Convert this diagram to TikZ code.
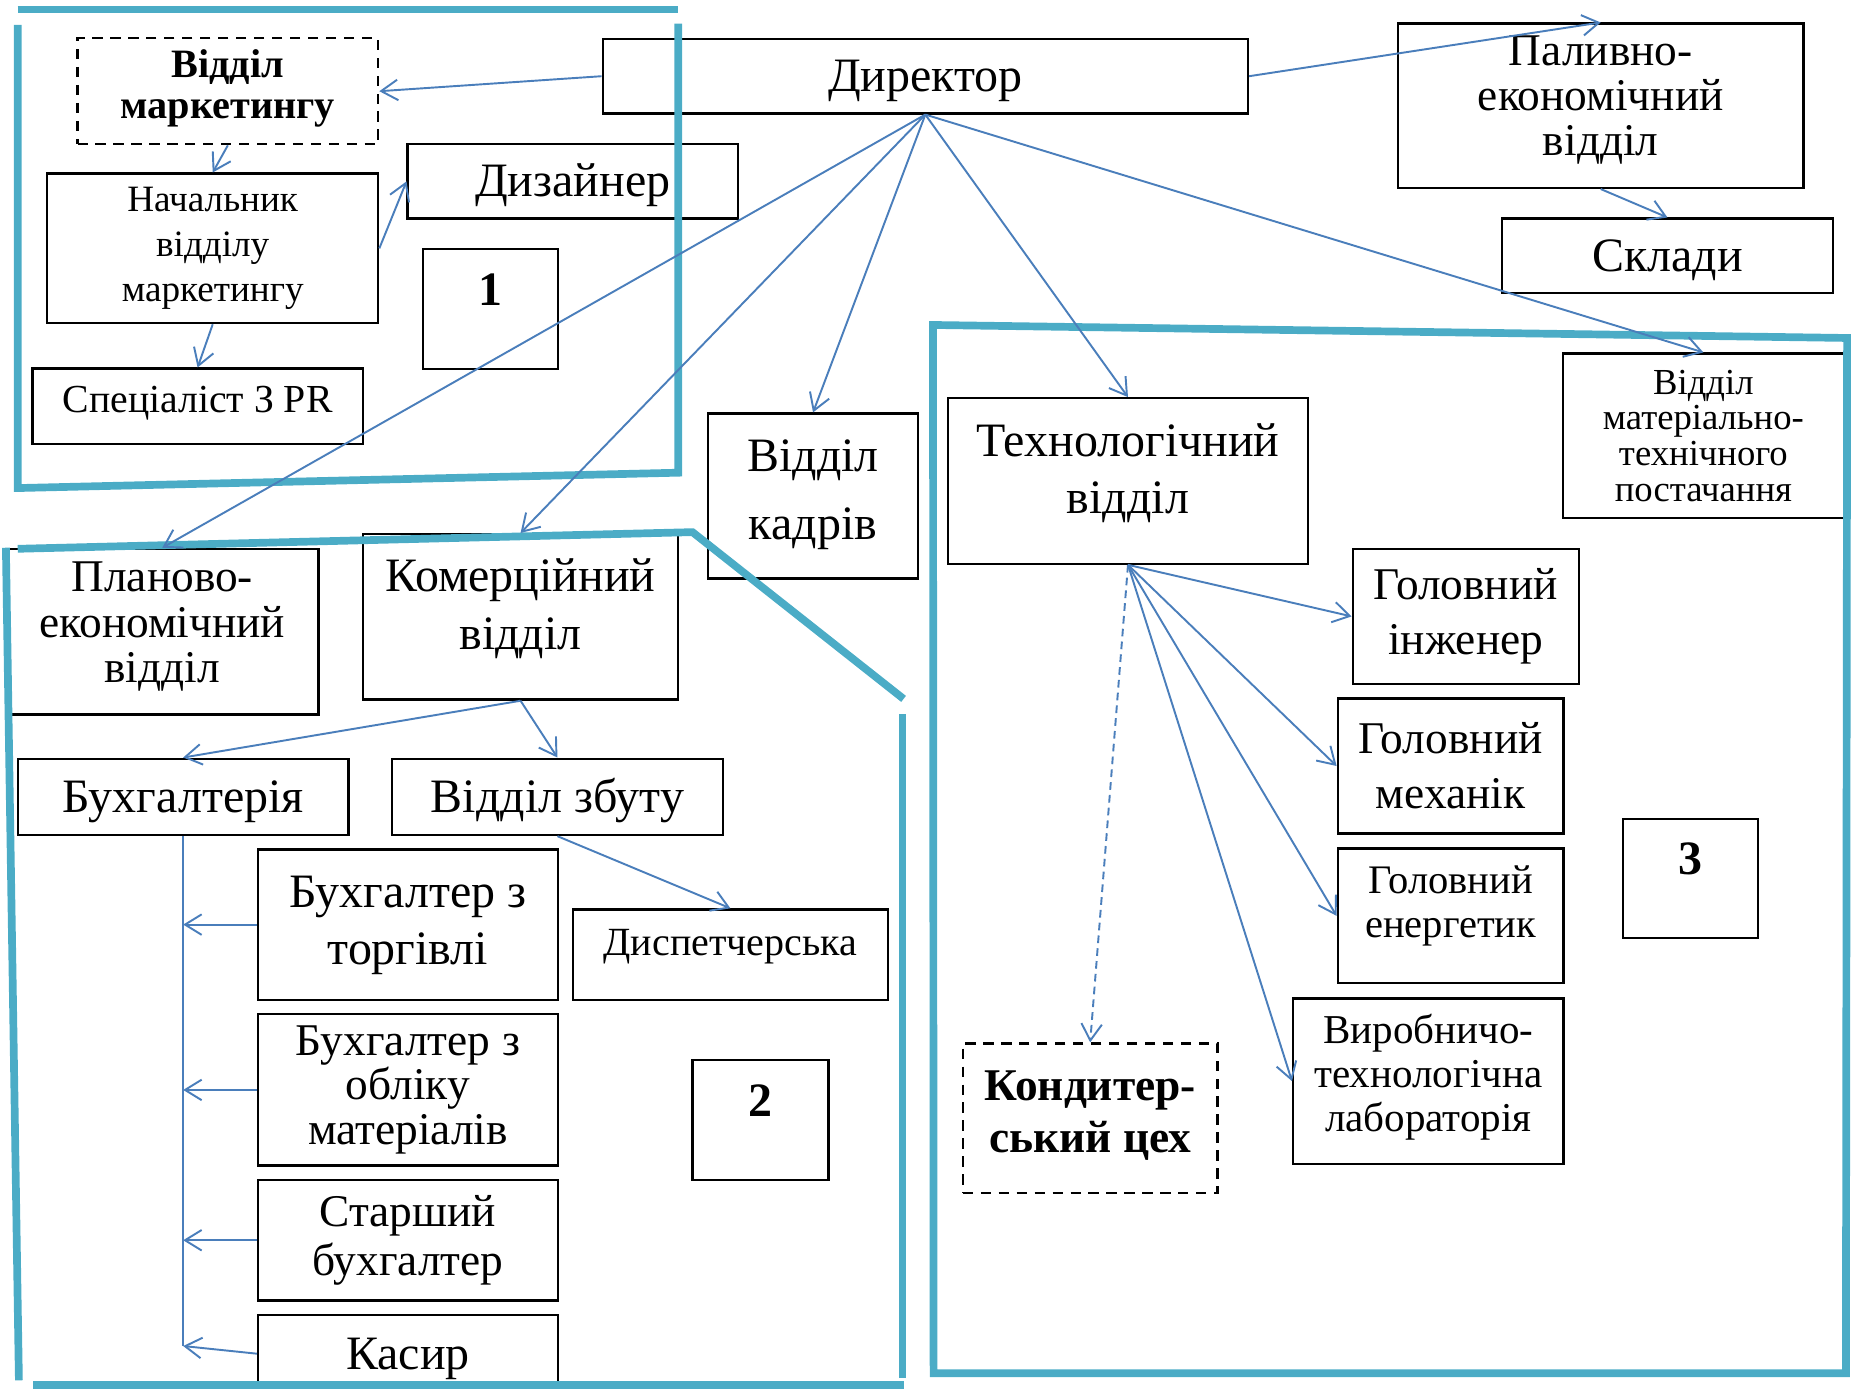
\documentclass[tikz,border=0pt]{standalone}
\usepackage{fontspec}
\setmainfont{Liberation Serif}
\usetikzlibrary{arrows.meta}
\definecolor{framecyan}{HTML}{4BACC6}
\definecolor{linkblue}{HTML}{4A7EBB}
\newcommand{\pxl}{0.16199mm}
\tikzstyle{unit} = [rectangle, draw=black, line width=0.9pt,
inner sep=0pt,
align=center,
font=\fontsize{18.7}{22}\selectfont]
\tikzstyle{oneline} = [unit, text height=12.4pt, text depth=0.4pt]
\tikzstyle{dashunit} = [unit, dash pattern=on 4pt off 3pt]
\tikzstyle{numunit} = [unit, font=\fontsize{18.7}{22}\selectfont\bfseries, text height=12.4pt]
\tikzstyle{link} = [draw=linkblue, line width=0.75pt, -{Straight Barb[length=6.5pt,width=8pt]}]
\tikzstyle{frame} = [draw=framecyan, line width=3pt]

\begin{document}
\begin{tikzpicture}[x=\pxl, y=-\pxl]
		\useasboundingbox (0,0) rectangle (1568,1175);
		\node (dir) [oneline, minimum width=546*\pxl, minimum height=63*\pxl] at (783,64.5) {Директор};
		\node (mark) [dashunit, minimum width=254.4*\pxl, minimum height=89.6*\pxl, font=\fontsize{15.7}{16}\selectfont\bfseries, text height=26.6pt, text depth=5.2pt] at (192.8,77.2) {Відділ\\маркетингу};
		\node (nach) [unit, minimum width=280*\pxl, minimum height=126.5*\pxl, font=\fontsize{14.5}{17.5}\selectfont] at (180,210.2) {Начальник\\відділу\\маркетингу};
		\node (spec) [unit, minimum width=279.5*\pxl, minimum height=63.5*\pxl, font=\fontsize{15.5}{19}\selectfont, text height=10.4pt, text depth=5.2pt] at (167.2,343.7) {Спеціаліст З PR};
		\node (diz) [oneline, minimum width=279.5*\pxl, minimum height=63*\pxl] at (484.7,153.5) {Дизайнер};
		\node (one) [numunit, minimum width=114.5*\pxl, minimum height=102*\pxl, text depth=15.2pt] at (415.2,261.5) {1};
		\node (pal) [unit, minimum width=343*\pxl, minimum height=139*\pxl, font=\fontsize{17.7}{17.5}\selectfont, text height=46.7pt, text depth=7.8pt] at (1354.5,89.5) {Паливно-\\економічний\\відділ};
		\node (skl) [oneline, minimum width=280*\pxl, minimum height=63*\pxl] at (1411,216.5) {Склади};
		\node (mtp) [unit, minimum width=238.2*\pxl, minimum height=139*\pxl, font=\fontsize{14.3}{13.9}\selectfont] at (1441.4,368.7) {Відділ\\матеріально-\\технічного\\постачання};
		\node (tech) [unit, minimum width=305*\pxl, minimum height=140*\pxl, text height=34.4pt, text depth=9.2pt] at (954.5,407) {Технологічний\\відділ};
		\node (kadr) [unit, minimum width=178*\pxl, minimum height=139.5*\pxl, font=\fontsize{18.7}{26.6}\selectfont, text height=39pt, text depth=5.2pt] at (688,419.7) {Відділ\\кадрів};
		\node (kom) [unit, minimum width=267*\pxl, minimum height=140*\pxl, font=\fontsize{18.7}{22.5}\selectfont, text height=34.9pt, text depth=9.6pt] at (440.5,522) {Комерційний\\відділ};
		\node (plan) [unit, minimum width=264.6*\pxl, minimum height=140*\pxl, font=\fontsize{17.7}{17.7}\selectfont, text height=47.1pt, text depth=7.4pt] at (137.3,534.5) {Планово-\\економічний\\відділ};
		\node (buh) [oneline, minimum width=280*\pxl, minimum height=64.6*\pxl] at (155,674.3) {Бухгалтерія};
		\node (zbut) [oneline, minimum width=280*\pxl, minimum height=64.6*\pxl] at (471.7,674.3) {Відділ збуту};
		\node (bt) [unit, minimum width=253.5*\pxl, minimum height=127.2*\pxl, font=\fontsize{18.7}{22.5}\selectfont, text height=34.9pt, text depth=3.6pt] at (345.2,782.4) {Бухгалтер з\\торгівлі};
		\node (disp) [unit, minimum width=267*\pxl, minimum height=76.4*\pxl, font=\fontsize{15.6}{19}\selectfont, text height=10.4pt, text depth=10pt] at (618.1,807.8) {Диспетчерська};
		\node (bom) [unit, minimum width=253.5*\pxl, minimum height=128*\pxl, font=\fontsize{17.7}{17.5}\selectfont] at (345.2,922.3) {Бухгалтер з\\обліку\\матеріалів};
		\node (sb) [unit, minimum width=253.5*\pxl, minimum height=102*\pxl, font=\fontsize{17.7}{19.3}\selectfont] at (345.2,1049.5) {Старший\\бухгалтер};
		\node (kas) [oneline, minimum width=253.5*\pxl, minimum height=65*\pxl] at (345.2,1145.5) {Касир};
		\node (two) [numunit, minimum width=115*\pxl, minimum height=101.5*\pxl, text depth=15.4pt] at (643.5,947.7) {2};
		\node (inzh) [unit, minimum width=191.3*\pxl, minimum height=114.4*\pxl, font=\fontsize{17.7}{21.5}\selectfont] at (1240.3,521.6) {Головний\\інженер};
		\node (mech) [unit, minimum width=191*\pxl, minimum height=114.4*\pxl, font=\fontsize{17.7}{21.5}\selectfont] at (1227.5,648.2) {Головний\\механік};
		\node (energ) [unit, minimum width=191*\pxl, minimum height=114*\pxl, font=\fontsize{15.8}{17.2}\selectfont, text height=27.8pt, text depth=10.6pt] at (1227.5,775) {Головний\\енергетик};
		\node (lab) [unit, minimum width=228.7*\pxl, minimum height=139.8*\pxl, font=\fontsize{16}{17.2}\selectfont, text height=45pt, text depth=5.5pt] at (1208.6,914.9) {Виробничо-\\технологічна\\лабораторія};
		\node (kond) [dashunit, minimum width=215.5*\pxl, minimum height=126.6*\pxl, font=\fontsize{17.7}{20.4}\selectfont\bfseries, text height=32.4pt, text depth=5.5pt] at (922.5,946.3) {Кондитер-\\ський цех};
		\node (three) [numunit, minimum width=114.3*\pxl, minimum height=101*\pxl, text depth=16pt] at (1430.5,743.5) {3};
		\coordinate (busend) at (155,1139);

		\draw [frame](15,8) -- (574,8);
		\draw [frame](15,21) -- (15,413) -- (574,400) -- (574,20);
		\draw [frame](15,464.4) -- (586,450.3) -- (764.6,591.4);
		\draw [frame](5,463.5) -- (16,1168);
		\draw [frame](28,1172) -- (765,1172);
		\draw [frame](763.6,604.5) -- (763.6,1166);
		\draw [frame](789.5,275) -- (1563,286) -- (1562,1162) -- (790,1162) -- cycle;

		\draw [link](dir.west) -- (mark.east);
		\draw [link](mark.south) -- (nach.north);
		\draw [link](nach.south) -- (spec.north);
		\draw [link](nach.east) -- (diz.west);
		\draw [link](dir.east) -- (pal.north);
		\draw [link](pal.south) -- (skl.north);
		\draw [link](dir.south) -- (mtp.north);
		\draw [link](dir.south) -- (tech.north);
		\draw [link](dir.south) -- (kadr.north);
		\draw [link](dir.south) -- (kom.north);
		\draw [link](dir.south) -- (plan.north);
		\draw [link](kom.south) -- (buh.north);
		\draw [link](kom.south) -- (zbut.north);
		\draw [link](zbut.south) -- (disp.north);
		\draw [draw=linkblue, line width=0.75pt](buh.south) -- (busend);
		\draw [link](bt.west) -- (bt.west -| buh.south);
		\draw [link](bom.west) -- (bom.west -| buh.south);
		\draw [link](sb.west) -- (sb.west -| buh.south);
		\draw [link](kas.west) -- (busend);
		\draw [link](tech.south) -- (inzh.west);
		\draw [link](tech.south) -- (mech.west);
		\draw [link](tech.south) -- (energ.west);
		\draw [link](tech.south) -- (lab.west);
		\draw [link, dash pattern=on 3pt off 2pt](tech.south) -- (kond.north);
	\end{tikzpicture}
\end{document}
